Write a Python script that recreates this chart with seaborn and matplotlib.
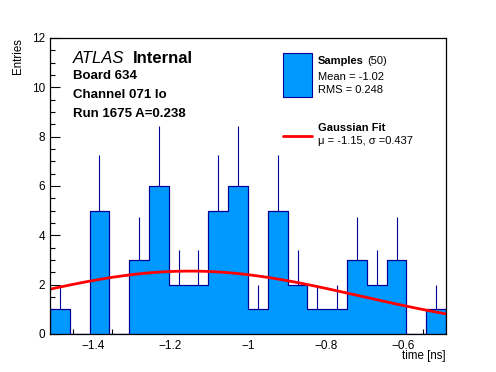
import numpy as np
import pandas as pd
import matplotlib
matplotlib.use("Agg")
import matplotlib.pyplot as plt
import seaborn as sns
from matplotlib.ticker import MultipleLocator

sns.set_style("ticks")
plt.rcParams['font.family'] = ['Liberation Sans', 'DejaVu Sans']
plt.rcParams['text.color'] = 'black'
plt.rcParams['xtick.color'] = 'black'
plt.rcParams['ytick.color'] = 'black'
plt.rcParams['xtick.labelcolor'] = 'black'
plt.rcParams['ytick.labelcolor'] = 'black'

# histogram data (20 bins, -1.51 .. -0.49 ns)
x_lo, x_hi = -1.51, -0.49
n_bins = 20
counts = [1, 0, 5, 0, 3, 6, 2, 2, 5, 6, 1, 5, 2, 1, 1, 3, 2, 3, 0, 1]

# gaussian fit
fit_amp = 2.55
fit_mu = -1.15
fit_sigma = 0.437

edges = np.linspace(x_lo, x_hi, n_bins + 1)
centers = 0.5 * (edges[:-1] + edges[1:])
counts = np.array(counts, dtype=float)
df = pd.DataFrame({'time': centers, 'n': counts})

fill_col = '#0099ff'
edge_col = '#000099'

fig = plt.figure(figsize=(4.96, 3.72), dpi=100)
ax = fig.add_axes([0.1008, 0.1022, 0.7984, 0.7957])

sns.histplot(data=df, x='time', weights='n', bins=list(edges), element='step', fill=True,
             color=fill_col, edgecolor=edge_col, alpha=1, linewidth=0.8, ax=ax)
# redraw outline in dark blue
ax.stairs(counts, edges, color=edge_col, linewidth=0.8)

nz = counts > 0
ax.vlines(centers[nz], counts[nz], counts[nz] + np.sqrt(counts[nz]),
          color=edge_col, linewidth=0.8)

xf = np.linspace(x_lo, x_hi, 200)
yf = fit_amp * np.exp(-0.5 * ((xf - fit_mu) / fit_sigma) ** 2)
sns.lineplot(x=xf, y=yf, color='red', linewidth=2, ax=ax)

ax.set_xlim(x_lo, x_hi)
ax.set_ylim(0, 12)
ax.xaxis.set_minor_locator(MultipleLocator(0.05))
ax.yaxis.set_major_locator(MultipleLocator(2))
ax.yaxis.set_minor_locator(MultipleLocator(0.5))
ax.tick_params(which='both', direction='in', labelsize=8.5, width=0.8, colors='black')
ax.tick_params(which='major', length=7)
ax.tick_params(which='minor', length=3.5)
ax.tick_params(axis='x', pad=4)
for s in ax.spines.values():
    s.set_linewidth(0.9)
    s.set_color('black')
ax.set_xticks([-1.4, -1.2, -1.0, -0.8, -0.6])
ax.set_xticklabels(['\u22121.4', '\u22121.2', '\u22121', '\u22120.8', '\u22120.6'])
ax.set_xlabel('')
ax.set_ylabel('')

fig.text(0.899, 0.042, 'time [ns]', ha='right', va='center', fontsize=8.3)
fig.text(0.036, 0.898, 'Entries', ha='center', va='top', rotation=90, fontsize=8.3)

# labels
fig.text(0.147, 0.843, 'ATLAS', style='italic', fontsize=12, va='center')
fig.text(0.268, 0.843, 'Internal', weight='bold', fontsize=12, va='center')
fig.text(0.147, 0.795, 'Board 634', weight='bold', fontsize=9.5, va='center')
fig.text(0.147, 0.744, 'Channel 071 lo', weight='bold', fontsize=9.5, va='center')
fig.text(0.147, 0.693, 'Run 1675 A=0.238', weight='bold', fontsize=9.5, va='center')

# legend
fig.patches.append(plt.Rectangle((283 / 496, 1 - 97 / 372), 29 / 496, 44 / 372,
                                 transform=fig.transFigure, facecolor=fill_col,
                                 edgecolor=edge_col, linewidth=0.8))
fig.lines.append(plt.Line2D([283 / 496, 312 / 496], [1 - 136 / 372] * 2,
                            transform=fig.transFigure, color='red', linewidth=2))
fig.text(318 / 496, 1 - 61 / 372, 'Samples', weight='bold', fontsize=8, va='center')
fig.text(367 / 496, 1 - 61 / 372, '(50)', fontsize=8, va='center')
fig.text(318 / 496, 1 - 77 / 372, 'Mean = -1.02', fontsize=8, va='center')
fig.text(318 / 496, 1 - 90 / 372, 'RMS = 0.248', fontsize=8, va='center')
fig.text(318 / 496, 1 - 128 / 372, 'Gaussian Fit', weight='bold', fontsize=8, va='center')
fig.text(318 / 496, 1 - 141 / 372, '\u03bc = -1.15, \u03c3 =0.437', fontsize=8, va='center')

fig.savefig('out.png', dpi=100)
